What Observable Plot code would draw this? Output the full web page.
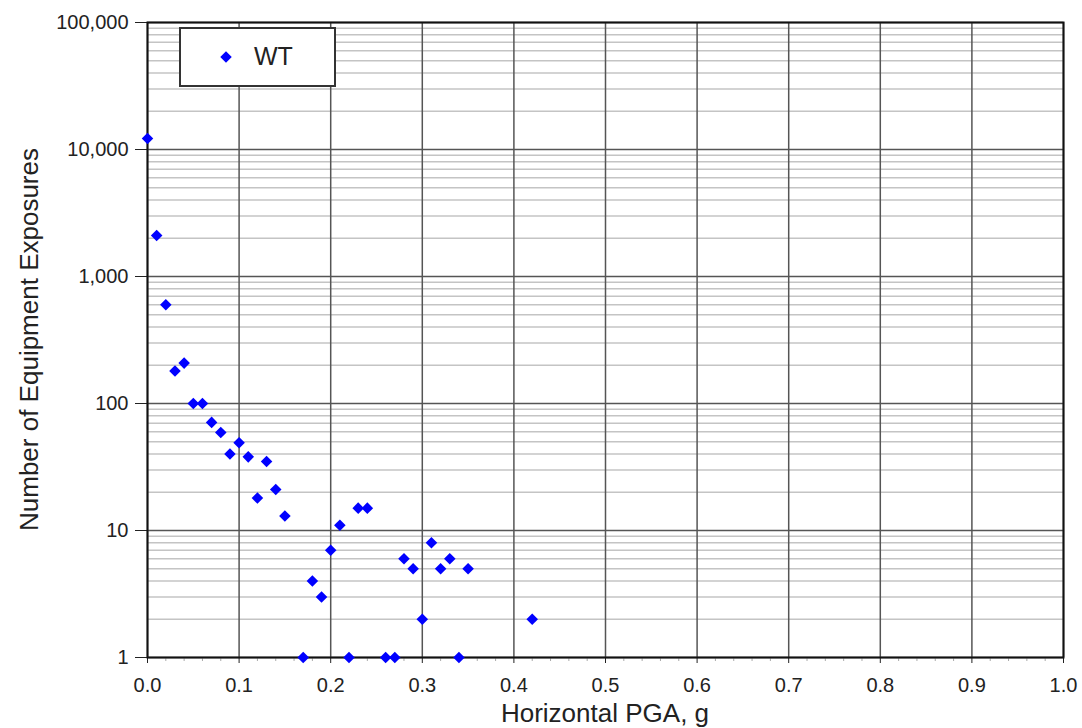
<!DOCTYPE html>
<html><head><meta charset="utf-8">
<script src="https://cdn.jsdelivr.net/npm/d3@7"></script>
<script src="https://cdn.jsdelivr.net/npm/@observablehq/plot@0.6"></script>
<style>body{margin:0;background:#fff;} #chart{position:relative;width:1082px;height:728px;}</style>
</head><body><div id="chart"></div>
<script>
const seriesName = "WT";
const pga = [0.00,0.01,0.02,0.03,0.04,0.05,0.06,0.07,0.08,0.09,0.10,0.11,0.12,0.13,0.14,0.15,0.17,0.18,0.19,0.20,0.21,0.22,0.23,0.24,0.26,0.27,0.28,0.29,0.30,0.31,0.32,0.33,0.34,0.35,0.42];
const exposures = [12200,2100,600,180,208,100,100,71,59,40,49,38,18,35,21,13,1,4,3,7,11,1,15,15,1,1,6,5,2,8,5,6,1,5,2];
const yTicks = [1,10,100,1000,10000,100000];
const xTicks = [0,0.1,0.2,0.3,0.4,0.5,0.6,0.7,0.8,0.9,1.0];
const xTitle = "Horizontal PGA, g";
const yTitle = "Number of Equipment Exposures";

const data = pga.map((x,i)=>({pga:x, n:exposures[i]}));
const yMinor = [];
for (const d of yTicks.slice(0,-1)) for (let k=2;k<=9;k++) yMinor.push(d*k);
const xMinor = d3.range(1,50).filter(i=>i%5!==0).map(i=>i/50);

const plot = Plot.plot({
  width:1082, height:728,
  marginLeft:147, marginRight:19, marginTop:22, marginBottom:71,
  style:{fontFamily:"'Liberation Sans', Arial, Helvetica, sans-serif", background:"#fff", color:"#222", overflow:"visible"},
  x:{domain:[0,1]},
  y:{type:"log", domain:[1,100000]},
  marks:[
    Plot.gridY({ticks:yMinor, stroke:"#c4c4c4", strokeOpacity:1, strokeWidth:1.5}),
    Plot.gridY({ticks:yTicks, stroke:"#555", strokeOpacity:1, strokeWidth:1.5}),
    Plot.gridX({ticks:xTicks, stroke:"#555", strokeOpacity:1, strokeWidth:1.5}),
    Plot.axisX({ticks:xMinor, tickSize:4, tickFormat:()=>"", stroke:"#aaa", label:null}),
    Plot.axisX({ticks:xTicks, tickSize:6, tickPadding:14, tickFormat:d3.format(".1f"), fontSize:20, label:null}),
    Plot.axisY({ticks:yTicks, tickSize:12, tickPadding:7, tickFormat:d3.format(","), fontSize:20, label:null}),
    Plot.frame({stroke:"#111", strokeWidth:2}),
    Plot.dot(data, {x:"pga", y:"n", symbol:d3.symbolDiamond2, r:5.2, fill:"#0000ff", stroke:"none"})
  ]
});
document.getElementById("chart").appendChild(plot);

const xs = plot.scale("x"), ys = plot.scale("y");
const cx = (xs.range[0] + xs.range[1]) / 2;
const cy = (ys.range[0] + ys.range[1]) / 2;
const svg = d3.select(plot);
svg.append("text").attr("x",cx).attr("y",722).attr("text-anchor","middle")
  .attr("font-size",26).attr("fill","#222").text(xTitle);
svg.append("text").attr("transform",`translate(38,${cy}) rotate(-90)`).attr("text-anchor","middle")
  .attr("font-size",26).attr("fill","#222").text(yTitle);

const lg = svg.append("g");
lg.append("rect").attr("x",180).attr("y",28).attr("width",155).attr("height",58)
  .attr("fill","#fff").attr("stroke","#333").attr("stroke-width",2);
lg.append("path").attr("transform","translate(226,57)").attr("d", d3.symbol(d3.symbolDiamond2, 85)()).attr("fill","#0000ff");
lg.append("text").attr("x",254).attr("y",65).attr("text-anchor","start").attr("font-size",25).attr("fill","#222").text(seriesName);
</script>
</body></html>
